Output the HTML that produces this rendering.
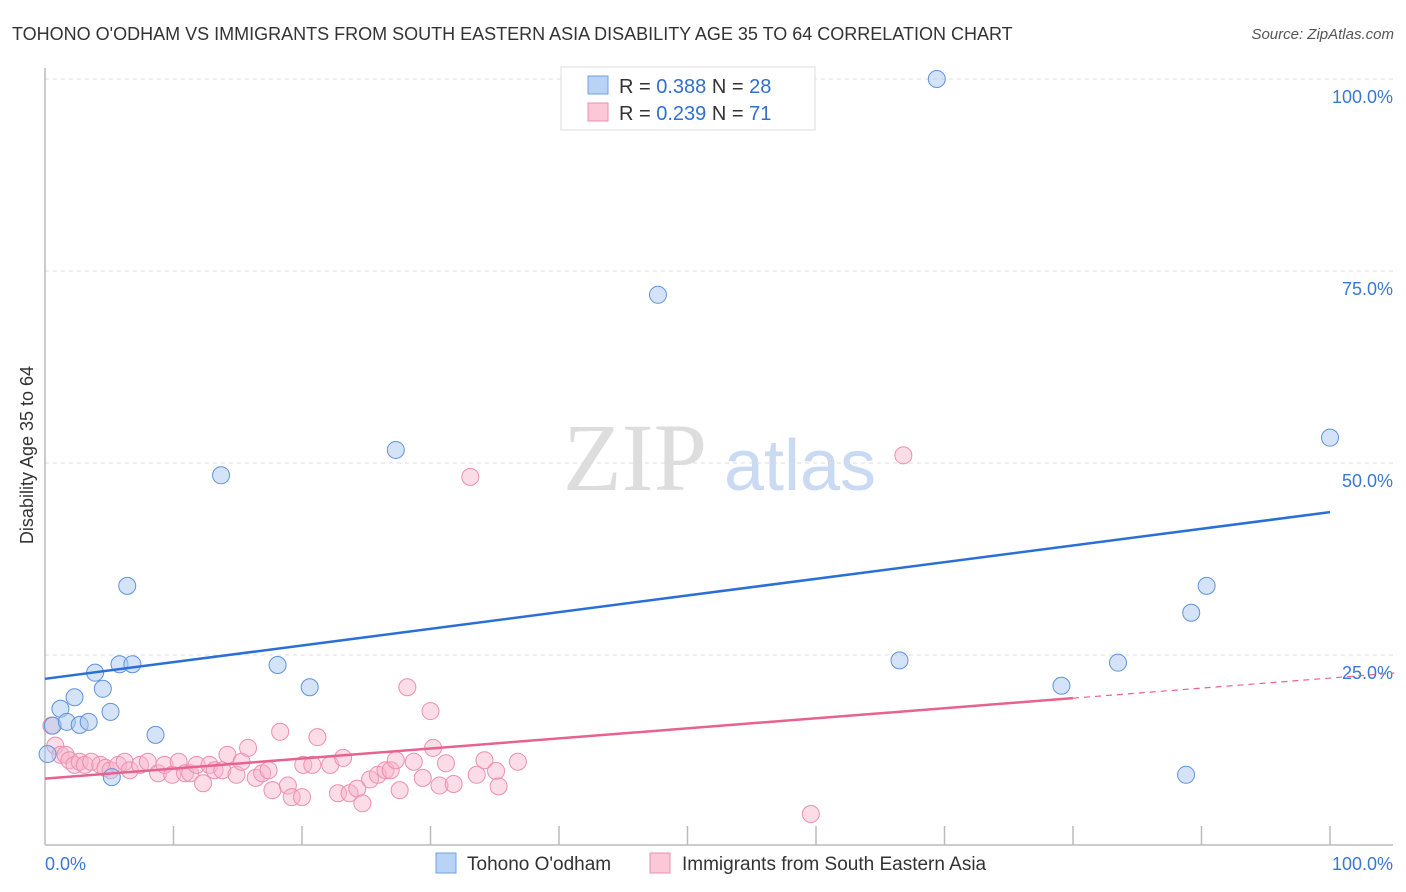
<!DOCTYPE html>
<html><head><meta charset="utf-8"><style>
body{margin:0;background:#fff;font-family:"Liberation Sans",sans-serif;}
svg{display:block}
</style></head><body>
<svg id="chart" width="1406" height="892" xmlns="http://www.w3.org/2000/svg">
<text x="12" y="40" font-size="18" fill="#333">TOHONO O'ODHAM VS IMMIGRANTS FROM SOUTH EASTERN ASIA DISABILITY AGE 35 TO 64 CORRELATION CHART</text>
<text x="1394" y="39" font-size="15" fill="#555" font-style="italic" text-anchor="end">Source: ZipAtlas.com</text>
<g>
<text x="635" y="490" font-size="96" font-family="Liberation Serif,serif" fill="#ddd" text-anchor="middle">ZIP</text>
<text x="800" y="490" font-size="72" fill="#c9daf2" text-anchor="middle">atlas</text>
</g>
<g id="grid"></g>
<g id="axes"></g>
<g id="marks"></g>
<text transform="translate(33,455) rotate(-90)" font-size="18" fill="#333" text-anchor="middle">Disability Age 35 to 64</text>
<g>
<rect x="561" y="67" width="254" height="63" fill="#fff" stroke="#ddd"/>
<rect x="588" y="76" width="20" height="18" fill="#b8d3f5" stroke="#6fa0e0"/>
<rect x="588" y="103" width="20" height="18" fill="#fbc8d8" stroke="#ee8fae"/>
<text x="619" y="93" font-size="20" fill="#333">R = <tspan fill="#2f6fd0">0.388</tspan>   N = <tspan fill="#2f6fd0">28</tspan></text>
<text x="619" y="120" font-size="20" fill="#333">R = <tspan fill="#2f6fd0">0.239</tspan>   N = <tspan fill="#2f6fd0"> 71</tspan></text>
</g>
<g>
<rect x="436" y="853" width="20" height="20" fill="#b8d3f5" stroke="#6fa0e0"/>
<text x="467" y="870" font-size="19" fill="#333">Tohono O'odham</text>
<rect x="650" y="853" width="20" height="20" fill="#fbc8d8" stroke="#ee8fae"/>
<text x="682" y="870" font-size="19" fill="#333">Immigrants from South Eastern Asia</text>
</g>
</svg>
<script>
const yTicks=[25,50,75,100];
const yTickLabels=["25.0%","50.0%","75.0%","100.0%"];
const blueX=[0.2,0.6,1.2,1.7,2.3,2.7,3.4,3.9,4.5,5.1,5.2,5.8,6.4,6.8,8.6,13.7,18.1,20.6,27.3,47.7,66.5,69.4,79.1,83.5,88.8,89.2,90.4,100];
const blueY=[12.1,15.8,18,16.3,19.5,15.9,16.3,22.7,20.6,17.6,9.1,23.8,34,23.8,14.6,48.4,23.7,20.8,51.7,71.9,24.3,100,21,24,9.4,30.5,34,53.3];
const pinkX=[0.5,0.8,1.2,1.6,1.9,2.3,2.7,3.1,3.6,4.3,4.7,5.1,5.7,6.2,6.6,7.4,8,8.8,9.3,9.9,10.4,10.9,11.3,11.8,12.3,12.8,13.2,13.8,14.2,14.9,15.3,15.8,16.4,16.9,17.4,17.7,18.3,18.9,19.2,20,20.1,20.8,21.2,22.2,23.2,22.8,23.7,24.3,24.7,25.3,25.9,26.5,26.9,27.3,27.6,28.2,28.7,29.4,30,30.2,30.7,31.2,31.8,33.1,33.6,34.2,35.1,35.3,36.8,59.6,66.8];
const pinkY=[15.8,13.2,12,12,11.3,10.7,11.1,10.7,11.1,10.7,10.3,10,10.7,11.1,10,10.7,11.1,9.6,10.7,9.4,11.1,9.6,9.6,10.7,8.3,10.7,10,10,12,9.4,11.1,12.9,9,9.6,10,7.4,15,8,6.5,6.5,10.7,10.7,14.3,10.7,11.6,7,7,7.6,5.7,8.8,9.4,10,10,11.3,7.4,20.8,11.1,9,17.7,12.9,8,10.9,8.2,48.2,9.4,11.3,9.9,7.9,11.1,4.3,51,1.8];
const blueTrend=[21.9,43.6];
const pinkTrend=[8.9,22.0];
const pinkSolidEnd=80;
const NS="http://www.w3.org/2000/svg";
const X=v=>45+v*12.85, Y=v=>847-v*7.68;
function mk(tag,attrs,parent){const e=document.createElementNS(NS,tag);for(const k in attrs)e.setAttribute(k,attrs[k]);parent.appendChild(e);return e;}
const grid=document.getElementById('grid'),axes=document.getElementById('axes'),marks=document.getElementById('marks');
yTicks.forEach((t,i)=>{
 const l=mk('line',{x1:45,x2:1393,y1:Y(t),y2:Y(t),stroke:'#ddd','stroke-dasharray':'4,4'},grid);
 
 
 const tx=mk('text',{x:1393,y:Y(t)+24,'font-size':18,fill:'#3a78d4','text-anchor':'end'},axes);
 tx.textContent=yTickLabels[i];
 
 
});
const ax=mk('line',{x1:45,x2:1393,y1:845,y2:845,stroke:'#bbb','stroke-width':1.5},axes);


const ay=mk('line',{x1:45,x2:45,y1:68,y2:845,stroke:'#bbb','stroke-width':1.5},axes);


for(let i=1;i<=10;i++){const t=mk('line',{x1:X(i*10),x2:X(i*10),y1:826,y2:845,stroke:'#bbb','stroke-width':1.5},axes);
 
 }
const xl0=mk('text',{x:45,y:870,'font-size':18,fill:'#3a78d4'},axes);xl0.textContent='0.0%';


const xl1=mk('text',{x:1393,y:870,'font-size':18,fill:'#3a78d4','text-anchor':'end'},axes);xl1.textContent='100.0%';


pinkX.forEach((v,i)=>{const c=mk('circle',{cx:X(v),cy:Y(pinkY[i]),r:8.5,fill:'rgba(248,180,202,0.45)',stroke:'#ec8fae','stroke-width':1},marks);
 
 });
blueX.forEach((v,i)=>{const c=mk('circle',{cx:X(v),cy:Y(blueY[i]),r:8.5,fill:'rgba(170,200,240,0.5)',stroke:'#5f93da','stroke-width':1},marks);
 
 });
const bt=mk('line',{x1:X(0),y1:Y(blueTrend[0]),x2:X(100),y2:Y(blueTrend[1]),stroke:'#2a6fd6','stroke-width':2.5},marks);


const pAt=x=>pinkTrend[0]+(pinkTrend[1]-pinkTrend[0])*x/100;
const pt=mk('line',{x1:X(0),y1:Y(pAt(0)),x2:X(pinkSolidEnd),y2:Y(pAt(pinkSolidEnd)),stroke:'#e8628e','stroke-width':2.5},marks);


const pd=mk('line',{x1:X(pinkSolidEnd),y1:Y(pAt(pinkSolidEnd)),x2:X(105),y2:Y(pAt(105)),stroke:'#e8628e','stroke-width':1.2,'stroke-dasharray':'6,5'},marks);


</script>
</body></html>
